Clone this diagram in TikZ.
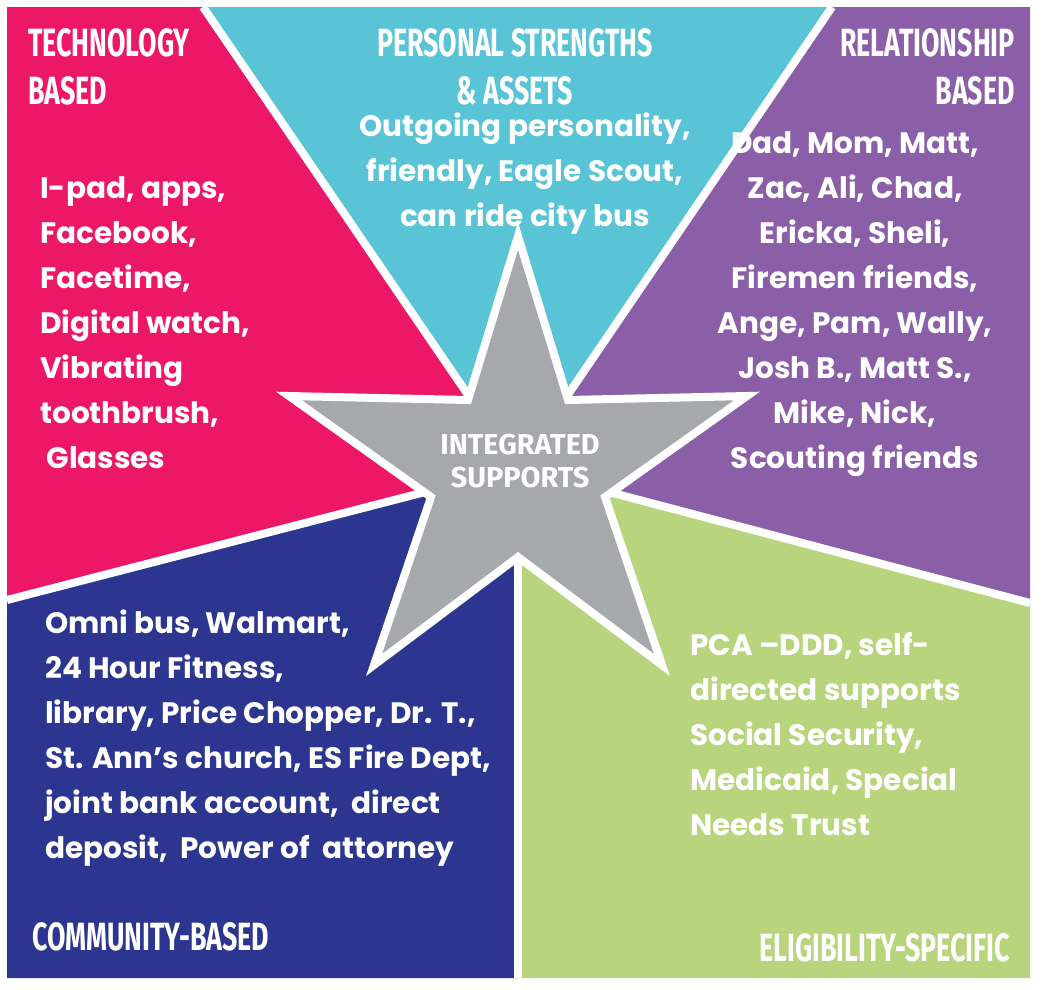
\documentclass[tikz,border=0pt]{standalone}
\usepackage{fontspec}
\newfontfamily\bodyfont{Poppins}
\newfontfamily\headfont{Fira Sans}[FakeStretch=0.68]
\newfontfamily\starfont{Fira Sans}
\definecolor{techpink}{HTML}{EC1766}
\definecolor{strcyan}{HTML}{58C4D5}
\definecolor{relpurple}{HTML}{8B5FA8}
\definecolor{comnavy}{HTML}{2C358F}
\definecolor{eliggreen}{HTML}{B8D57E}
\definecolor{stargrey}{HTML}{A7A8AC}
\tikzset{
  gap/.style={white, line width=0.2cm},
  bodytext/.style={text=white, inner sep=0pt, font=\bodyfont\bfseries\fontsize{21}{32}\selectfont},
  headtext/.style={text=white, inner sep=0pt, font=\headfont\bfseries\fontsize{28}{34}\selectfont}
}
\begin{document}
\begin{tikzpicture}[x=0.025cm, y=-0.025cm]
    \useasboundingbox (0,0) rectangle (1050,989);
    \coordinate (o) at (518,468);
    \coordinate (pc) at (203,7);
    \coordinate (cp) at (832,7);
    \coordinate (pn) at (7,600);
    \coordinate (pg) at (1030,603);
    \coordinate (ng) at (518,978);

    % the five sectors
    \fill[techpink] (o) -- (pc) -- (7,7) -- (pn) -- cycle;
    \fill[strcyan] (o) -- (pc) -- (cp) -- cycle;
    \fill[relpurple] (o) -- (cp) -- (1030,7) -- (pg) -- cycle;
    \fill[eliggreen] (o) -- (pg) -- (1030,978) -- (ng) -- cycle;
    \fill[comnavy] (o) -- (ng) -- (7,978) -- (pn) -- cycle;
    \foreach \p in {pc,cp,pn,pg,ng}
      \draw[gap] (o) -- (\p);

    % star
    \filldraw[fill=stargrey, draw=white, line width=0.2cm, line join=miter]
      (518,236) -- (568,400) -- (747,396) -- (605,497) -- (662,665) -- (518,557)
      -- (374,665) -- (431,497) -- (289,396) -- (468,400) -- cycle;
    \node[text=white, align=center, font=\starfont\bfseries\fontsize{20.5}{23}\selectfont] (star) at (520,461) {INTEGRATED\\SUPPORTS};

    % headings
    \node[headtext, anchor=north west, align=left] (tech) at (28,28) {TECHNOLOGY\\BASED};
    \node[headtext, anchor=north, align=center] (pers) at (515,28) {PERSONAL STRENGTHS\\\& ASSETS};
    \node[headtext, anchor=north east, align=right] (rel) at (1015,28) {RELATIONSHIP\\BASED};
    \node[headtext, anchor=west] (com) at (32,937) {COMMUNITY-BASED};
    \node[headtext, anchor=east] (elig) at (1010,948) {ELIGIBILITY-SPECIFIC};

    % lists
    \node[bodytext, anchor=north west, align=left] (techlist) at (40,176)
      {I-pad, apps,\\Facebook,\\Facetime,\\Digital watch,\\Vibrating\\toothbrush,\\\ Glasses};
    \node[bodytext, anchor=north, align=center] (perslist) at (525,113)
      {Outgoing personality,\\friendly, Eagle Scout,\\can ride city bus};
    \node[bodytext, anchor=north, align=center] (rellist) at (855,131)
      {Dad, Mom, Matt,\\Zac, Ali, Chad,\\Ericka, Sheli,\\Firemen friends,\\Ange, Pam, Wally,\\Josh B., Matt S.,\\Mike, Nick,\\Scouting friends};
    \node[bodytext, anchor=north west, align=left] (comlist) at (45,610)
      {Omni bus, Walmart,\\24 Hour Fitness,\\library, Price Chopper, Dr. T.,\\St. Ann’s church, ES Fire Dept,\\joint bank account,\ \ direct\\deposit,\ \ Power of\ \ attorney};
    \node[bodytext, anchor=north west, align=left] (eliglist) at (690,632)
      {PCA –DDD, self-\\directed supports\\Social Security,\\Medicaid, Special\\Needs Trust};
\end{tikzpicture}
\end{document}
